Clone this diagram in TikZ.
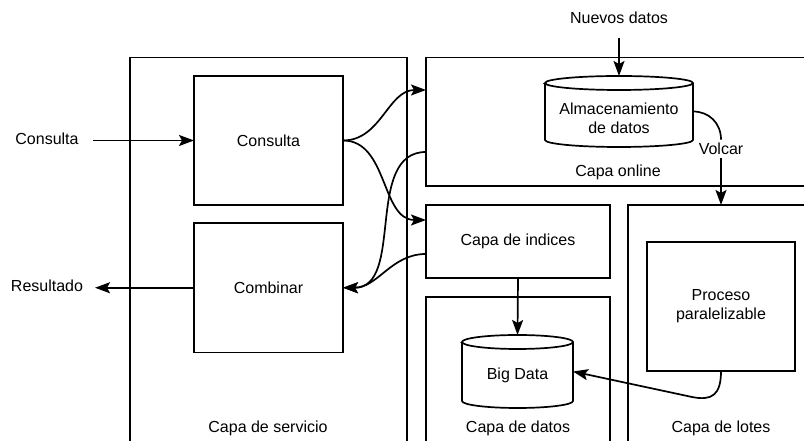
\documentclass[tikz,border=0pt]{standalone}
\usepackage{fontspec}
\setmainfont{Liberation Sans}
\usetikzlibrary{arrows.meta,calc}
\begin{document}
\begin{tikzpicture}[x=1bp,y=1bp,
  every node/.style={font=\fontsize{16bp}{19bp}\selectfont},
  frame/.style={draw, line width=1.7bp, rectangle, inner sep=0pt, outer sep=0pt},
  link/.style={line width=1.7bp, -{Stealth[length=15bp,width=11bp,inset=3bp]}},
  plain/.style={line width=1.7bp},
  barrel/.style={inner sep=0pt, outer sep=0pt},
]
\useasboundingbox (0,0) rectangle (804,441);
\clip (0,0) rectangle (804,441);

% layer containers (open towards the page edges)
\node[frame, anchor=north west, minimum width=277bp, minimum height=420bp] (serv) at (130,383.5) {};
\node[frame, anchor=north west, minimum width=420bp, minimum height=128.5bp] (online) at (426,383.5) {};
\node[frame, anchor=north west, minimum width=184bp, minimum height=73bp] (indices) at (426,236) {Capa de indices};
\node[frame, anchor=north west, minimum width=184bp, minimum height=200bp] (datos) at (426,144) {};
\node[frame, anchor=north west, minimum width=220bp, minimum height=300bp] (lotes) at (628,236) {};

% inner process boxes
\node[frame, minimum width=149bp, minimum height=129bp] (cons) at (268.5,300.5) {Consulta};
\node[frame, minimum width=149bp, minimum height=129.5bp] (comb) at (268.5,153.25) {Combinar};
\node[frame, minimum width=148bp, minimum height=129bp, align=center] (proc) at (721,134.5) {Proceso\\paralelizable};

% storage cylinder of the online layer
\node[barrel, minimum width=148bp, minimum height=71bp] (alm) at (619,329.5) {};
\draw[plain, fill=white] (545,358) -- (545,301)
  arc[start angle=180, end angle=360, x radius=74bp, y radius=7bp] -- (693,358)
  arc[start angle=0, end angle=180, x radius=74bp, y radius=7bp] -- cycle;
\draw[plain] (545,358) arc[start angle=180, end angle=360, x radius=74bp, y radius=7bp];
\node[align=center] (almtxt) at (619,323) {Almacenamiento\\de datos};

% big data cylinder
\node[barrel, minimum width=111bp, minimum height=73bp] (bd) at (517.5,69.5) {};
\draw[plain, fill=white] (462,99) -- (462,40)
  arc[start angle=180, end angle=360, x radius=55.5bp, y radius=7bp] -- (573,99)
  arc[start angle=0, end angle=180, x radius=55.5bp, y radius=7bp] -- cycle;
\draw[plain] (462,99) arc[start angle=180, end angle=360, x radius=55.5bp, y radius=7bp];
\node (bdtxt) at (517.5,66) {Big Data};

% captions
\node (servlbl) at (268,13) {Capa de servicio};
\node (onlinelbl) at (618,269) {Capa online};
\node (datoslbl) at (518,13) {Capa de datos};
\node (loteslbl) at (721,13) {Capa de lotes};
\node (nuevos) at (619,423) {Nuevos datos};
\node (qlbl) at (47,302.5) {Consulta};
\node (rlbl) at (47,155) {Resultado};
\node (volcar) at (721,292) {Volcar};

% connectors
\coordinate (ndout) at (619,403);
\draw[link] (ndout) -- (alm.north);
\coordinate (qin) at (93,300.5);
\draw[link] (qin) -- (cons.west);
\coordinate (rout) at (95,153.25);
\draw[link] (comb.west) -- (rout);
\draw[link] (cons.east) to[out=0,in=180] ($(online.north west)+(0,-32.5)$);
\draw[link] (cons.east) to[out=0,in=180] ($(indices.north west)+(0,-15)$);
\draw[link] ($(online.north west)+(0,-94.5)$) to[out=180,in=0] (comb.east);
\draw[link] ($(indices.north west)+(0,-49)$) to[out=180,in=0] (comb.east);
\draw[link] (indices.south) -- (bd.north);
\draw[plain] (alm.east) .. controls (709,329.5) and (721,318) .. (volcar.north);
\draw[link] (volcar.south) -- (volcar.south |- lotes.north);
\draw[link] (proc.south) .. controls (721,46) and (712,40) .. (692,44) -- (bd.east);
\end{tikzpicture}
\end{document}
